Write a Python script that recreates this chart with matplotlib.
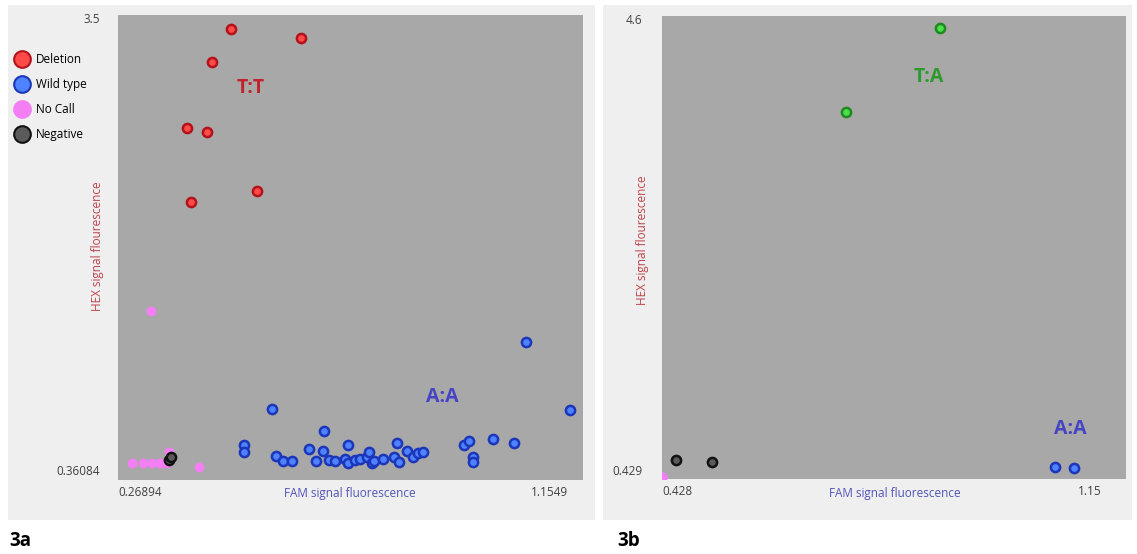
import matplotlib
matplotlib.use('Agg')
import matplotlib.pyplot as plt
from matplotlib.patches import Rectangle
from matplotlib.lines import Line2D

plt.rcParams['font.family'] = ['Open Sans', 'DejaVu Sans']

# ---- panel 3a data ----
del_x = [0.5012, 0.6451, 0.4622, 0.4108, 0.4519, 0.5546, 0.4190]
del_y = [3.423, 3.357, 3.194, 2.736, 2.708, 2.298, 2.222]

wt_x = [0.585, 1.198, 1.108, 0.692, 0.527, 0.527, 0.593, 0.607, 0.626, 0.662,
        0.675, 0.691, 0.703, 0.715, 0.736, 0.742, 0.742, 0.756, 0.766, 0.780,
        0.785, 0.790, 0.795, 0.813, 0.837, 0.842, 0.847, 0.862, 0.875, 0.886,
        0.895, 0.979, 0.991, 0.999, 0.999, 1.039, 1.083]
wt_y = [0.782, 0.777, 1.250, 0.634, 0.534, 0.488, 0.458, 0.423, 0.423, 0.507,
        0.423, 0.493, 0.430, 0.423, 0.437, 0.534, 0.409, 0.430, 0.439, 0.451,
        0.488, 0.409, 0.423, 0.439, 0.453, 0.550, 0.418, 0.493, 0.453, 0.477,
        0.488, 0.534, 0.564, 0.449, 0.418, 0.576, 0.546]

nc_x = [0.3368, 0.2977, 0.3203, 0.3388, 0.3553, 0.3697, 0.3738, 0.4354]
nc_y = [1.465, 0.409, 0.409, 0.409, 0.409, 0.409, 0.486, 0.382]

neg_x = [0.3738, 0.3779]
neg_y = [0.430, 0.451]

# ---- panel 3b data ----
ta_x = [0.897, 0.738]
ta_y = [4.518, 3.741]
neg2_x = [0.4516, 0.5123]
neg2_y = [0.5215, 0.5067]
aa_x = [1.091, 1.123]
aa_y = [0.46, 0.452]
nc2_x = [0.428]
nc2_y = [0.36]

RED_F, RED_E = '#ff4a4a', '#b3121a'
BLU_F, BLU_E = '#4f82ff', '#1b36b8'
PNK_F = '#f47ef4'
BLK_F, BLK_E = '#5a5a5a', '#111111'
GRN_F, GRN_E = '#49e049', '#1f8a1f'

fig = plt.figure(figsize=(11.37, 5.54), dpi=100)
fig.patch.set_facecolor('white')

# light grey panels behind each plot
fig.add_artist(Rectangle((0.007, 0.0614), 0.516, 0.9296, transform=fig.transFigure,
                         facecolor='#efefef', edgecolor='none', zorder=0))
fig.add_artist(Rectangle((0.5303, 0.0614), 0.4653, 0.9296, transform=fig.transFigure,
                         facecolor='#efefef', edgecolor='none', zorder=0))

ax1 = fig.add_axes([0.1038, 0.1336, 0.409, 0.8394])
ax2 = fig.add_axes([0.5822, 0.1354, 0.4081, 0.8357])

for ax in (ax1, ax2):
    ax.set_facecolor('#a8a8a8')
    for s in ax.spines.values():
        s.set_visible(False)
    ax.tick_params(length=0, labelsize=8.5, labelcolor='#404040')

ms = 44
ax1.scatter(nc_x, nc_y, s=ms, c=PNK_F, edgecolors=PNK_F, linewidths=0.5, zorder=3)
ax1.scatter(wt_x, wt_y, s=ms, c=BLU_F, edgecolors=BLU_E, linewidths=1.8, zorder=3)
ax1.scatter(del_x, del_y, s=ms, c=RED_F, edgecolors=RED_E, linewidths=1.8, zorder=3)
ax1.scatter(neg_x, neg_y, s=ms, c=BLK_F, edgecolors=BLK_E, linewidths=1.8, zorder=4)

ax1.set_xlim(0.26894, 1.2247)
ax1.set_ylim(0.291, 3.52)
ax1.set_xticks([0.26894, 1.1549])
ax1.set_xticklabels(['0.26894', '1.1549'])
ax1.get_xticklabels()[0].set_ha('left')
ax1.set_yticks([0.36084, 3.5])
ax1.set_yticklabels(['0.36084', '3.5'])
ax1.tick_params(axis='y', pad=13)
ax1.tick_params(axis='x', pad=4)

ax1.text(0.5423, 3.01, 'T:T', color='#c0232b', fontsize=14, fontweight='bold',
         ha='center', va='center')
ax1.text(0.935, 0.865, 'A:A', color='#4545c4', fontsize=14, fontweight='bold',
         ha='center', va='center')

ax1.text(0.499, -0.030, 'FAM signal fluorescence', transform=ax1.transAxes,
         color='#5353b8', fontsize=8.5, ha='center', va='center')
ax1.text(-0.045, 0.503, 'HEX signal flourescence', transform=ax1.transAxes,
         color='#c0404a', fontsize=8.5, ha='center', va='center', rotation=90)

ax2.scatter(nc2_x, nc2_y, s=ms, c=PNK_F, edgecolors=PNK_F, zorder=3)
ax2.scatter(ta_x, ta_y, s=ms, c=GRN_F, edgecolors=GRN_E, linewidths=1.8, zorder=3)
ax2.scatter(neg2_x, neg2_y, s=ms, c=BLK_F, edgecolors=BLK_E, linewidths=1.8, zorder=3)
ax2.scatter(aa_x, aa_y, s=ms, c=BLU_F, edgecolors=BLU_E, linewidths=1.8, zorder=3)

ax2.set_xlim(0.428, 1.2107)
ax2.set_ylim(0.346, 4.628)
ax2.set_xticks([0.428, 1.15])
ax2.set_xticklabels(['0.428', '1.15'])
ax2.get_xticklabels()[0].set_ha('left')
ax2.set_yticks([0.429, 4.6])
ax2.set_yticklabels(['0.429', '4.6'])
ax2.tick_params(axis='y', pad=14)
ax2.tick_params(axis='x', pad=4)

ax2.text(0.8784, 4.06, 'T:A', color='#2e9a2e', fontsize=14, fontweight='bold',
         ha='center', va='center')
ax2.text(1.1163, 0.81, 'A:A', color='#4545c4', fontsize=14, fontweight='bold',
         ha='center', va='center')

ax2.text(0.502, -0.032, 'FAM signal fluorescence', transform=ax2.transAxes,
         color='#5353b8', fontsize=8.5, ha='center', va='center')
ax2.text(-0.041, 0.516, 'HEX signal flourescence', transform=ax2.transAxes,
         color='#c0404a', fontsize=8.5, ha='center', va='center', rotation=90)

# legend for 3a
handles = [
    Line2D([], [], marker='o', ls='', ms=12, mfc=RED_F, mec=RED_E, mew=1.5),
    Line2D([], [], marker='o', ls='', ms=12, mfc=BLU_F, mec=BLU_E, mew=1.5),
    Line2D([], [], marker='o', ls='', ms=12, mfc=PNK_F, mec=PNK_F, mew=1.5),
    Line2D([], [], marker='o', ls='', ms=12, mfc=BLK_F, mec=BLK_E, mew=1.5),
]
fig.legend(handles, ['Deletion', 'Wild type', 'No Call', 'Negative'],
           loc='upper left', bbox_to_anchor=(0.005, 0.912), frameon=False,
           fontsize=8.5, handletextpad=0.15, labelspacing=1.0, borderaxespad=0)

fig.text(0.008, 0.023, '3a', fontsize=13.5, fontweight='bold', ha='left', va='center')
fig.text(0.543, 0.023, '3b', fontsize=13.5, fontweight='bold', ha='left', va='center')

fig.savefig('out.png', dpi=100)
